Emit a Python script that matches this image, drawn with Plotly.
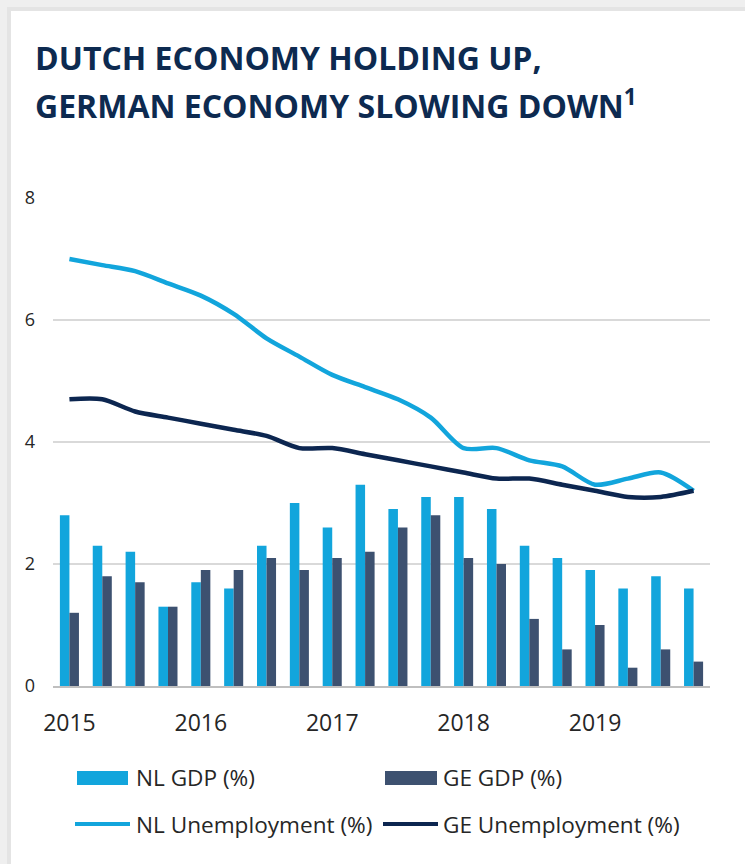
import plotly.graph_objects as go

# ---------------- data ----------------
quarters = [f"{y}Q{q}" for y in range(2015, 2020) for q in range(1, 5)]
year_ticks = ["2015Q1", "2016Q1", "2017Q1", "2018Q1", "2019Q1"]
year_labels = ["2015", "2016", "2017", "2018", "2019"]

nl_gdp = [2.8, 2.3, 2.2, 1.3, 1.7, 1.6, 2.3, 3.0, 2.6, 3.3,
          2.9, 3.1, 3.1, 2.9, 2.3, 2.1, 1.9, 1.6, 1.8, 1.6]
ge_gdp = [1.2, 1.8, 1.7, 1.3, 1.9, 1.9, 2.1, 1.9, 2.1, 2.2,
          2.6, 2.8, 2.1, 2.0, 1.1, 0.6, 1.0, 0.3, 0.6, 0.4]
nl_unemp = [7.0, 6.9, 6.8, 6.6, 6.4, 6.1, 5.7, 5.4, 5.1, 4.9,
            4.7, 4.4, 3.9, 3.9, 3.7, 3.6, 3.3, 3.4, 3.5, 3.2]
ge_unemp = [4.7, 4.7, 4.5, 4.4, 4.3, 4.2, 4.1, 3.9, 3.9, 3.8,
            3.7, 3.6, 3.5, 3.4, 3.4, 3.3, 3.2, 3.1, 3.1, 3.2]

series_names = ["NL GDP (%)", "GE GDP (%)", "NL Unemployment (%)", "GE Unemployment (%)"]
y_ticks = [0, 2, 4, 6, 8]

# ---------------- style ----------------
C_NL = "#12A5DC"
C_GE_BAR = "#3D5170"
C_GE_LINE = "#0C2650"
C_TITLE = "#0D2A50"
C_TEXT = "#262626"
FONT = "Open Sans"

W, H = 745, 864
L, R, T, B = 53, 35, 198, 178
PW, PH = W - L - R, H - T - B


def px(x):
    return (x - L) / PW


def py(y):
    return (H - B - y) / PH


fig = go.Figure()
fig.add_trace(go.Bar(x=quarters, y=nl_gdp, name=series_names[0], marker_color=C_NL,
                     marker_line_width=0, showlegend=False))
fig.add_trace(go.Bar(x=quarters, y=ge_gdp, name=series_names[1], marker_color=C_GE_BAR,
                     marker_line_width=0, showlegend=False))
fig.add_trace(go.Scatter(x=quarters, y=nl_unemp, name=series_names[2], mode="lines",
                         line=dict(color=C_NL, width=4.5, shape="spline", smoothing=0.8),
                         showlegend=False))
fig.add_trace(go.Scatter(x=quarters, y=ge_unemp, name=series_names[3], mode="lines",
                         line=dict(color=C_GE_LINE, width=4.5, shape="spline", smoothing=0.8),
                         showlegend=False))

shapes = []
# card shadow (left and top)
shapes.append(dict(type="rect", xref="paper", yref="paper", x0=px(0), x1=px(11), y0=py(H), y1=py(0),
                   fillcolor="#efefef", line_width=0, layer="below"))
shapes.append(dict(type="rect", xref="paper", yref="paper", x0=px(0), x1=px(W), y0=py(11), y1=py(0),
                   fillcolor="#efefef", line_width=0, layer="below"))
shapes.append(dict(type="rect", xref="paper", yref="paper", x0=px(7), x1=px(11), y0=py(H), y1=py(7),
                   fillcolor="#e4e4e4", line_width=0, layer="below"))
shapes.append(dict(type="rect", xref="paper", yref="paper", x0=px(7), x1=px(W), y0=py(11), y1=py(7),
                   fillcolor="#e4e4e4", line_width=0, layer="below"))

# manual legend
legend_items = [
    ("rect", C_NL, 77, 128, 778, series_names[0], 134),
    ("rect", C_GE_BAR, 385, 437, 778, series_names[1], 441),
    ("line", C_NL, 75, 130, 824, series_names[2], 134),
    ("line", C_GE_LINE, 383, 438, 824, series_names[3], 441),
]
annotations = []
for kind, col, x0, x1, yc, label, tx in legend_items:
    if kind == "rect":
        shapes.append(dict(type="rect", xref="paper", yref="paper", x0=px(x0), x1=px(x1),
                           y0=py(yc + 7), y1=py(yc - 7), fillcolor=col, line_width=0))
    else:
        shapes.append(dict(type="line", xref="paper", yref="paper", x0=px(x0), x1=px(x1),
                           y0=py(yc), y1=py(yc), line=dict(color=col, width=4)))
    annotations.append(dict(text=label, xref="paper", yref="paper", x=px(tx), y=py(yc),
                            xanchor="left", yanchor="middle", showarrow=False,
                            font=dict(family=FONT, size=22.6, color=C_TEXT)))

# title (two lines)
annotations.append(dict(text="<b>DUTCH ECONOMY HOLDING UP,</b>", xref="paper", yref="paper",
                        x=px(33), y=py(57), xanchor="left", yanchor="middle", showarrow=False,
                        font=dict(family=FONT, size=32, color=C_TITLE)))
annotations.append(dict(text="<b>GERMAN ECONOMY SLOWING DOWN<sup>1</sup></b>", xref="paper", yref="paper",
                        x=px(33), y=py(104), xanchor="left", yanchor="middle", showarrow=False,
                        font=dict(family=FONT, size=32, color=C_TITLE)))

fig.update_layout(
    width=W, height=H,
    margin=dict(l=L, r=R, t=T, b=B, pad=0),
    paper_bgcolor="white", plot_bgcolor="white",
    barmode="group", bargap=0.42, bargroupgap=0,
    showlegend=False,
    shapes=shapes, annotations=annotations,
    font=dict(family=FONT, color=C_TEXT),
    xaxis=dict(type="category", categoryorder="array", categoryarray=quarters,
               range=[-0.5, 19.5], tickmode="array", tickvals=year_ticks, ticktext=year_labels,
               showgrid=False, showline=True, linecolor="#bfbfbf", linewidth=1.5,
               ticks="", tickfont=dict(family=FONT, size=23, color=C_TEXT),
               ticklabelstandoff=16, zeroline=False, fixedrange=True),
    yaxis=dict(range=[0, 8], tickmode="array", tickvals=y_ticks,
               showgrid=True, gridcolor="#d9d9d9", gridwidth=1.5, zeroline=False,
               showline=False, ticks="", tickfont=dict(family=FONT, size=18, color=C_TEXT),
               ticklabelstandoff=17, fixedrange=True),
)

fig.write_html("out.html")
